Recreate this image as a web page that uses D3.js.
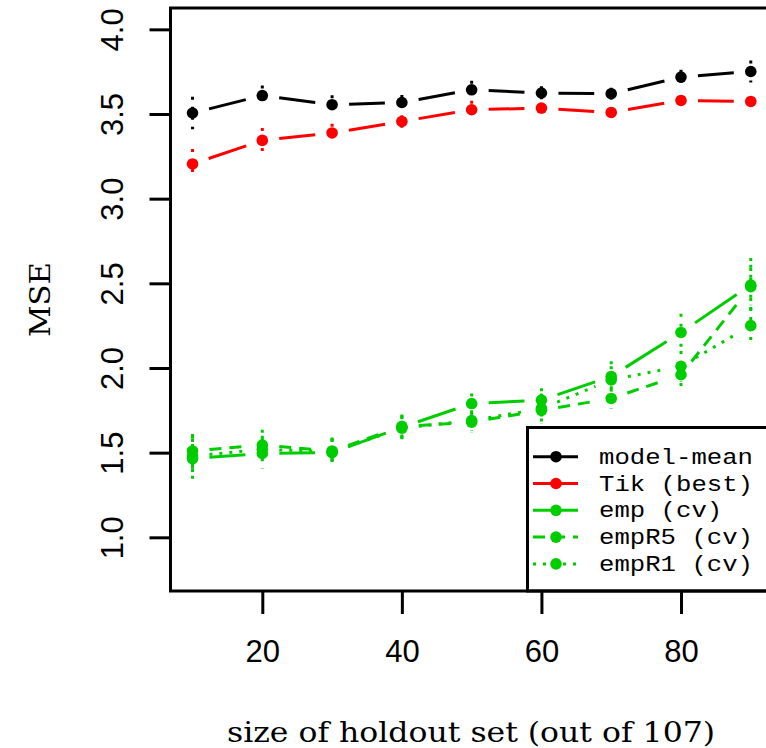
<!DOCTYPE html>
<html>
<head>
<meta charset="utf-8">
<script src="https://cdn.jsdelivr.net/npm/d3@7"></script>
<style>
  body { margin: 0; background: #fff; }
</style>
</head>
<body>
<div id="chart"></div>
<script>
// values
const holdout = [10, 20, 30, 40, 50, 60, 70, 80, 90];

const modelMean    = [3.506, 3.609, 3.555, 3.568, 3.643, 3.624, 3.620, 3.718, 3.751];
const modelMeanErr = [0.096, 0.059, 0.056, 0.044, 0.053, 0.040, 0.035, 0.044, 0.065];
const tikBest      = [3.205, 3.344, 3.388, 3.456, 3.525, 3.535, 3.509, 3.580, 3.574];
const tikBestErr   = [0.088, 0.074, 0.054, 0.037, 0.053, 0.030, 0.030, 0.030, 0.030];
const emp          = [1.465, 1.495, 1.500, 1.650, 1.790, 1.810, 1.950, 2.210, 2.490];
const empErr       = [0.135, 0.090, 0.080, 0.070, 0.060, 0.070, 0.090, 0.110, 0.120];
const empR5        = [1.510, 1.545, 1.510, 1.655, 1.680, 1.750, 1.820, 1.960, 2.480];
const empR5Err     = [0.100, 0.090, 0.080, 0.070, 0.060, 0.070, 0.060, 0.070, 0.170];
const empR1        = [1.480, 1.520, 1.505, 1.645, 1.690, 1.760, 1.930, 2.010, 2.250];
const empR1Err     = [0.100, 0.080, 0.080, 0.070, 0.060, 0.090, 0.080, 0.090, 0.110];

const legendLabels = ["model-mean", "Tik (best)", "emp (cv)", "empR5 (cv)", "empR1 (cv)"];
const xTicks = [20, 40, 60, 80];
const yTicks = [1.0, 1.5, 2.0, 2.5, 3.0, 3.5, 4.0];

const width = 766;
const height = 748;

const series = [
  {name: legendLabels[0], y: modelMean, err: modelMeanErr, color: "#000000", dash: null},
  {name: legendLabels[1], y: tikBest,   err: tikBestErr,   color: "#ff0000", dash: null},
  {name: legendLabels[2], y: emp,       err: empErr,       color: "#00cd00", dash: null},
  {name: legendLabels[3], y: empR5,     err: empR5Err,     color: "#00cd00", dash: "12,8"},
  {name: legendLabels[4], y: empR1,     err: empR1Err,     color: "#00cd00", dash: "3,7"}
];

var svg = d3.select("#chart").append("svg")
    .attr("width", width)
    .attr("height", height)
    .style("display", "block");

svg.append("rect")
    .attr("width", width)
    .attr("height", height)
    .attr("fill", "#fff");

// plot region as R leaves it (4% padding both ways)
const xScale = d3.scaleLinear().domain([6.8, 93.2]).range([170.2, 773.1]);
const yScale = d3.scaleLinear().domain([0.683, 4.126]).range([591, 8]);

var yAxis = d3.axisLeft(yScale)
    .tickValues(yTicks)
    .tickFormat(d3.format(".1f"))
    .tickSize(21)
    .tickSizeOuter(0);

var xAxis = d3.axisBottom(xScale)
    .tickValues(xTicks)
    .tickSize(23)
    .tickSizeOuter(0);

var gy = svg.append("g")
    .attr("transform", "translate(170.5,0)")
    .call(yAxis)
    .attr("font-family", "'Liberation Sans', Arial, sans-serif")
    .attr("font-size", 31);
gy.select(".domain").remove();
gy.selectAll(".tick line").attr("stroke", "#000").attr("stroke-width", 3);
gy.selectAll(".tick text")
    .attr("x", null)
    .attr("dy", null)
    .attr("fill", "#000")
    .attr("text-anchor", "middle")
    .attr("transform", "translate(-47.5,0) rotate(-90)");

var gx = svg.append("g")
    .attr("transform", "translate(0,591)")
    .call(xAxis)
    .attr("font-family", "'Liberation Sans', Arial, sans-serif")
    .attr("font-size", 31);
gx.select(".domain").remove();
gx.selectAll(".tick line").attr("stroke", "#000").attr("stroke-width", 3);
gx.selectAll(".tick text")
    .attr("y", 71)
    .attr("dy", null)
    .attr("fill", "#000");

// R type="b": segments stop short of the points
const gap = 17;
function gappedSegments(ys) {
  var out = [];
  for (var i = 0; i < holdout.length - 1; i++) {
    var x0 = xScale(holdout[i]), y0 = yScale(ys[i]);
    var x1 = xScale(holdout[i + 1]), y1 = yScale(ys[i + 1]);
    var len = Math.hypot(x1 - x0, y1 - y0);
    if (len <= 2 * gap) continue;
    var ux = (x1 - x0) / len, uy = (y1 - y0) / len;
    out.push([x0 + ux * gap, y0 + uy * gap, x1 - ux * gap, y1 - uy * gap]);
  }
  return out;
}

var plot = svg.append("g").attr("class", "series");

series.forEach(function(s) {
  var g = plot.append("g");

  // error bars, dotted
  g.selectAll("line.err")
    .data(holdout)
    .enter().append("line")
    .attr("class", "err")
    .attr("x1", d => xScale(d))
    .attr("x2", d => xScale(d))
    .attr("y1", (d, i) => yScale(s.y[i] + s.err[i]))
    .attr("y2", (d, i) => yScale(s.y[i] - s.err[i]))
    .attr("stroke", s.color)
    .attr("stroke-width", 3)
    .attr("stroke-dasharray", "3,7");

  g.selectAll("line.seg")
    .data(gappedSegments(s.y))
    .enter().append("line")
    .attr("class", "seg")
    .attr("x1", d => d[0])
    .attr("y1", d => d[1])
    .attr("x2", d => d[2])
    .attr("y2", d => d[3])
    .attr("stroke", s.color)
    .attr("stroke-width", 3)
    .attr("stroke-dasharray", s.dash);

  g.selectAll("circle")
    .data(holdout)
    .enter().append("circle")
    .attr("cx", d => xScale(d))
    .attr("cy", (d, i) => yScale(s.y[i]))
    .attr("r", 5.8)
    .attr("fill", s.color);
});

// legend, bottom right against the box
var legend = svg.append("g").attr("class", "legend");
legend.append("rect")
    .attr("x", 527.5)
    .attr("y", 427.5)
    .attr("width", 260)
    .attr("height", 163.5)
    .attr("fill", "#fff")
    .attr("stroke", "#000")
    .attr("stroke-width", 3);

var rows = legend.selectAll("g.row")
    .data(series)
    .enter().append("g")
    .attr("class", "row")
    .attr("transform", (d, i) => "translate(0," + (456.7 + i * 26.8) + ")");

rows.append("line")
    .attr("x1", 533)
    .attr("x2", 578)
    .attr("stroke", d => d.color)
    .attr("stroke-width", 3)
    .attr("stroke-dasharray", d => d.dash);

rows.append("circle")
    .attr("cx", 556)
    .attr("r", 5.8)
    .attr("fill", d => d.color);

rows.append("text")
    .attr("x", 599)
    .attr("y", 7)
    .attr("font-family", "'Liberation Mono', 'Courier New', monospace")
    .attr("font-size", 22)
    .attr("textLength", d => d.name.length * 15.4)
    .attr("lengthAdjust", "spacingAndGlyphs")
    .attr("fill", "#000")
    .text(d => d.name);

// plot box
svg.append("rect")
    .attr("x", 170.5)
    .attr("y", 8)
    .attr("width", 602.5)
    .attr("height", 583)
    .attr("fill", "none")
    .attr("stroke", "#000")
    .attr("stroke-width", 3);

// axis titles
svg.append("text")
    .attr("x", 471)
    .attr("y", 741.5)
    .attr("text-anchor", "middle")
    .attr("font-family", "'DejaVu Serif', 'Liberation Serif', serif")
    .attr("font-size", 27)
    .attr("textLength", 488)
    .attr("lengthAdjust", "spacingAndGlyphs")
    .attr("fill", "#000")
    .text("size of holdout set (out of 107)");

svg.append("text")
    .attr("transform", "translate(50,299.5) rotate(-90)")
    .attr("text-anchor", "middle")
    .attr("font-family", "'DejaVu Serif', 'Liberation Serif', serif")
    .attr("font-size", 27)
    .attr("textLength", 75)
    .attr("lengthAdjust", "spacingAndGlyphs")
    .attr("fill", "#000")
    .text("MSE");
</script>
</body>
</html>
